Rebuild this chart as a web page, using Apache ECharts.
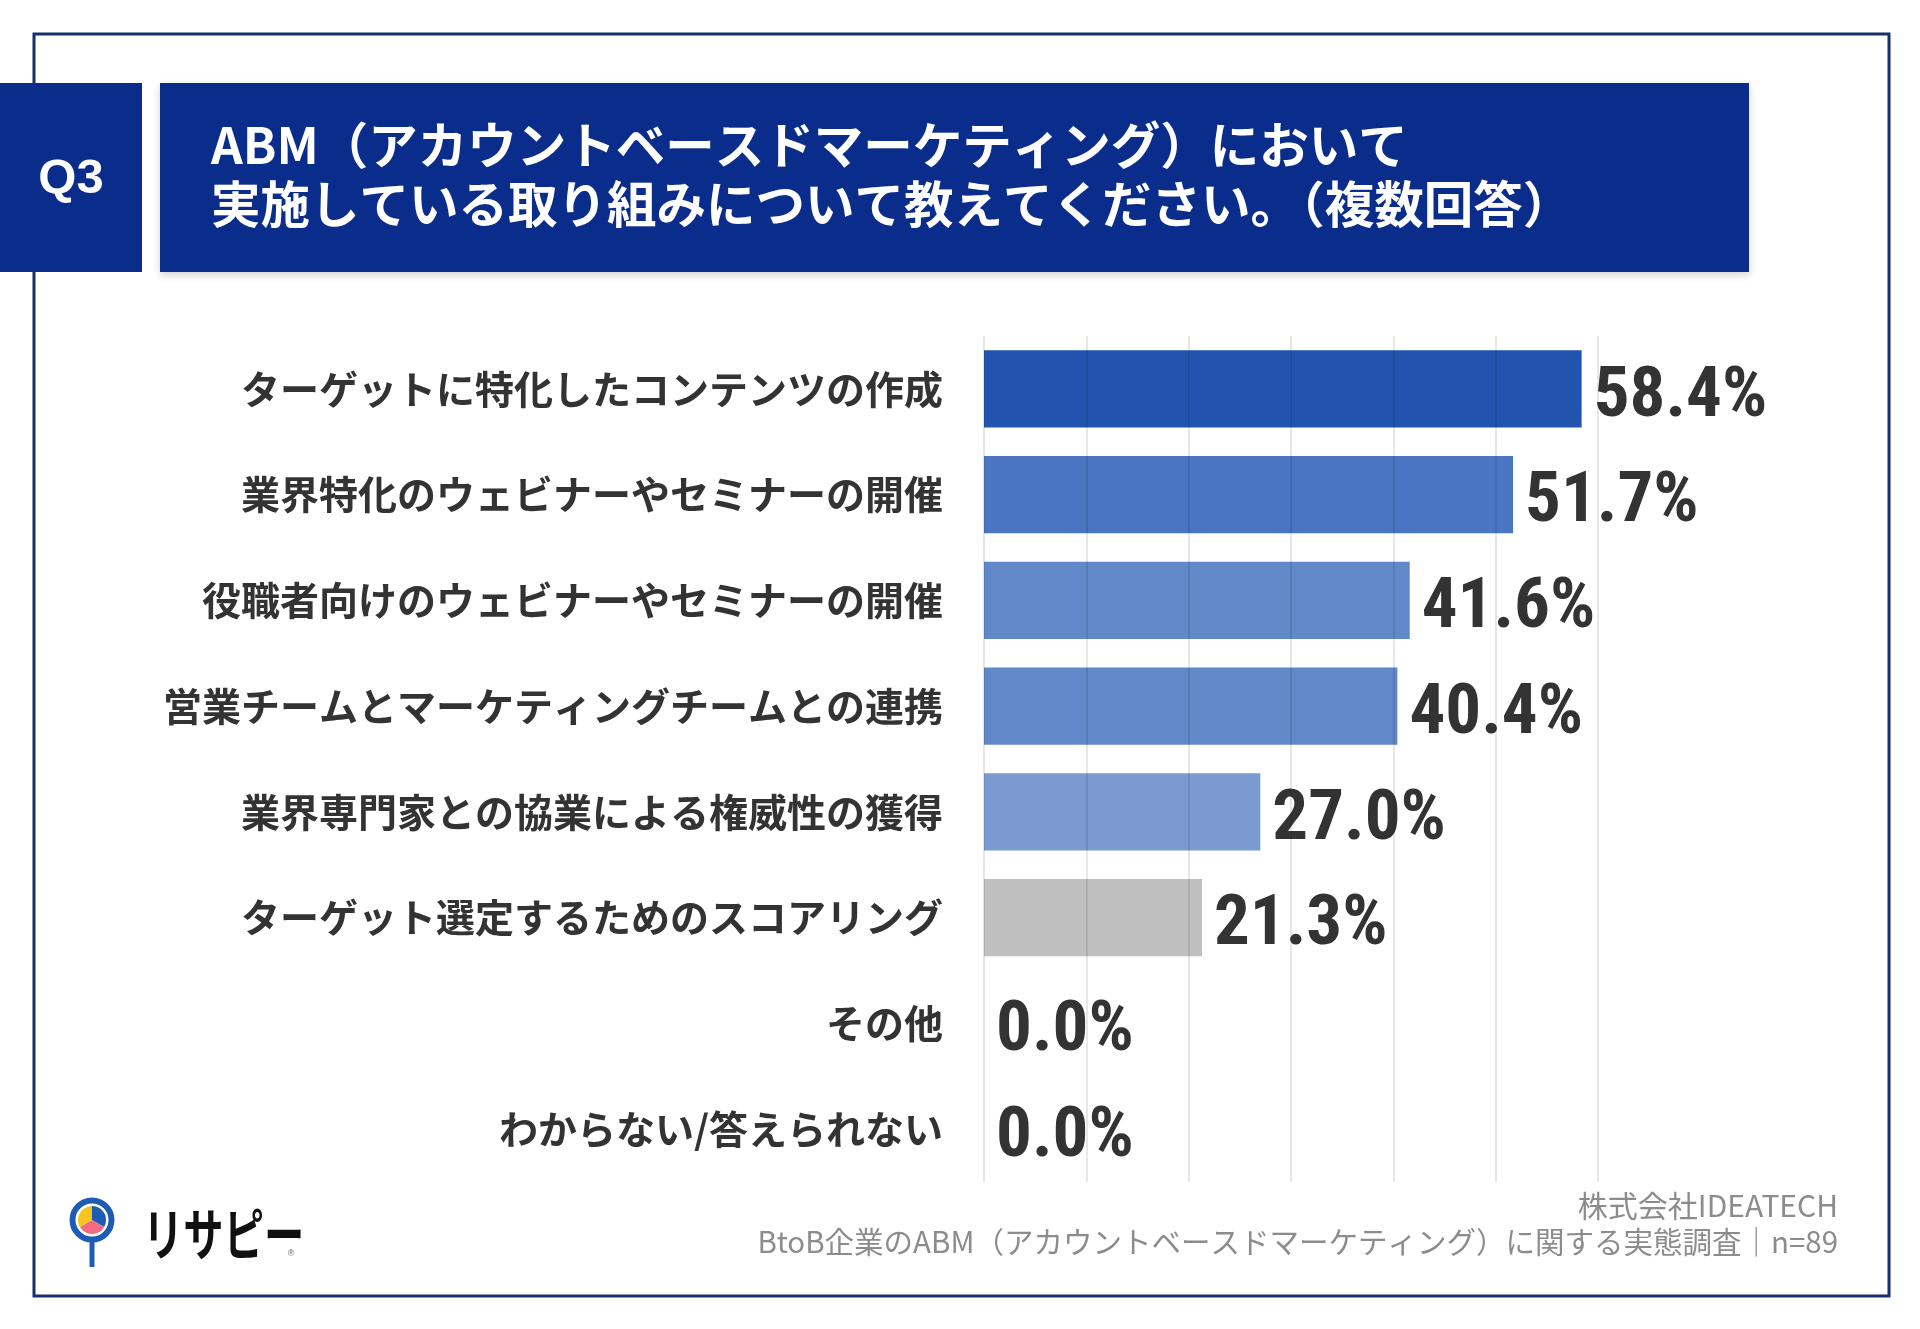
<!DOCTYPE html>
<html lang="ja">
<head>
<meta charset="UTF-8">
<title>ABM 取り組み</title>
<script src="https://cdn.jsdelivr.net/npm/echarts@6/dist/echarts.min.js"></script>
<style>
  html, body { margin: 0; padding: 0; background: #fff; }
  #main { width: 1920px; height: 1329px; }
</style>
</head>
<body>
<div id="main"></div>
<script>
// data
const categories = [
  'ターゲットに特化したコンテンツの作成',
  '業界特化のウェビナーやセミナーの開催',
  '役職者向けのウェビナーやセミナーの開催',
  '営業チームとマーケティングチームとの連携',
  '業界専門家との協業による権威性の獲得',
  'ターゲット選定するためのスコアリング',
  'その他',
  'わからない/答えられない'
];
const values = [58.4, 51.7, 41.6, 40.4, 27.0, 21.3, 0.0, 0.0];
const barColors = ['#2154ae', '#4a75c0', '#6188c8', '#6188c8', '#7b9bd0', '#bfbfbf', '#bfbfbf', '#bfbfbf'];
const axisTicks = [0, 10, 20, 30, 40, 50, 60];

const titleLines = [
  'ABM（アカウントベースドマーケティング）において',
  '実施している取り組みについて教えてください。（複数回答）'
];
const footerLines = [
  '株式会社IDEATECH',
  'BtoB企業のABM（アカウントベースドマーケティング）に関する実態調査｜n=89'
];

const JP = '"Noto Sans CJK JP", "Noto Sans", sans-serif';
const NARROW = '"Liberation Sans Narrow", "Arial Narrow", "Roboto Condensed", "Liberation Sans", sans-serif';

let chartDom = document.getElementById('main');
let myChart = echarts.init(chartDom);

let option = {
  backgroundColor: '#ffffff',
  animation: false,
  grid: { left: 984, right: 322, top: 336, height: 846, containLabel: false },
  xAxis: {
    type: 'value',
    min: axisTicks[0],
    max: axisTicks[axisTicks.length - 1],
    interval: axisTicks[1] - axisTicks[0],
    z: 3,
    axisLabel: { show: false },
    axisLine: { show: false },
    axisTick: { show: false },
    splitLine: { show: true, lineStyle: { color: 'rgba(0,0,0,0.13)', width: 1.5 } }
  },
  yAxis: {
    type: 'category',
    inverse: true,
    data: categories,
    axisLine: { show: false },
    axisTick: { show: false },
    axisLabel: {
      margin: 41,
      fontFamily: JP,
      fontSize: 39,
      fontWeight: 'bold',
      color: '#333333'
    }
  },
  series: [{
    type: 'bar',
    barCategoryGap: '27%',
    z: 2,
    data: values.map((v, i) => ({ value: v, itemStyle: { color: barColors[i] } })),
    label: {
      show: true,
      position: 'right',
      distance: 12,
      offset: [0, 9],
      formatter: p => p.value.toFixed(1) + '%',
      fontFamily: NARROW,
      fontSize: 71,
      fontWeight: 'bold',
      color: '#333333'
    }
  }],
  graphic: [
    // outer frame
    { type: 'rect', z: 0, shape: { x: 34, y: 34, width: 1855, height: 1262 },
      style: { fill: 'none', stroke: '#16306e', lineWidth: 3 } },
    // Q3 box
    { type: 'rect', z: 10, shape: { x: 0, y: 83, width: 142, height: 189 },
      style: { fill: '#0a2c8a' } },
    { type: 'text', z: 11, x: 71, y: 179,
      style: { text: 'Q3', fill: '#fff', font: 'bold 49px "Liberation Sans", Arial, sans-serif',
               textAlign: 'center', textVerticalAlign: 'middle' } },
    // title box
    { type: 'rect', z: 10, shape: { x: 160, y: 83, width: 1589, height: 189 },
      style: { fill: '#0a2c8a', shadowBlur: 8, shadowColor: 'rgba(0,0,0,0.18)', shadowOffsetY: 3 } },
    { type: 'text', z: 11, x: 211, y: 145,
      style: { text: titleLines[0], fill: '#fff', font: 'bold 49.5px ' + JP,
               textAlign: 'left', textVerticalAlign: 'middle' } },
    { type: 'text', z: 11, x: 211, y: 204,
      style: { text: titleLines[1], fill: '#fff', font: 'bold 49.5px ' + JP,
               textAlign: 'left', textVerticalAlign: 'middle' } },
    // footer
    { type: 'text', z: 11, x: 1838, y: 1206,
      style: { text: footerLines[0], fill: '#8c8c8c', font: '30px ' + JP,
               textAlign: 'right', textVerticalAlign: 'middle' } },
    { type: 'text', z: 11, x: 1838, y: 1242,
      style: { text: footerLines[1], fill: '#8c8c8c', font: '29.5px ' + JP,
               textAlign: 'right', textVerticalAlign: 'middle' } },
    // logo: pin with pie
    { type: 'line', z: 11, shape: { x1: 92, y1: 1240, x2: 92, y2: 1267 },
      style: { stroke: '#1d5bb5', lineWidth: 5 } },
    { type: 'sector', z: 12, shape: { cx: 92, cy: 1220, r: 14, startAngle: -Math.PI / 2, endAngle: Math.PI / 6 },
      style: { fill: '#1d5bb5' } },
    { type: 'sector', z: 12, shape: { cx: 92, cy: 1220, r: 14, startAngle: Math.PI / 6, endAngle: 5 * Math.PI / 6 },
      style: { fill: '#f26b7f' } },
    { type: 'sector', z: 12, shape: { cx: 92, cy: 1220, r: 14, startAngle: 5 * Math.PI / 6, endAngle: 3 * Math.PI / 2 },
      style: { fill: '#f7c51e' } },
    { type: 'circle', z: 12, shape: { cx: 92, cy: 1220, r: 19.5 },
      style: { fill: 'none', stroke: '#1d5bb5', lineWidth: 6 } },
    { type: 'text', z: 11, x: 143, y: 1234, scaleX: 0.72,
      style: { text: 'リサピー', fill: '#111', font: 'bold 56px ' + JP,
               textAlign: 'left', textVerticalAlign: 'middle' } },
    { type: 'text', z: 11, x: 291, y: 1254,
      style: { text: '®', fill: '#666', font: '9px sans-serif',
               textAlign: 'center', textVerticalAlign: 'middle' } }
  ]
};

option && myChart.setOption(option);
</script>
</body>
</html>
